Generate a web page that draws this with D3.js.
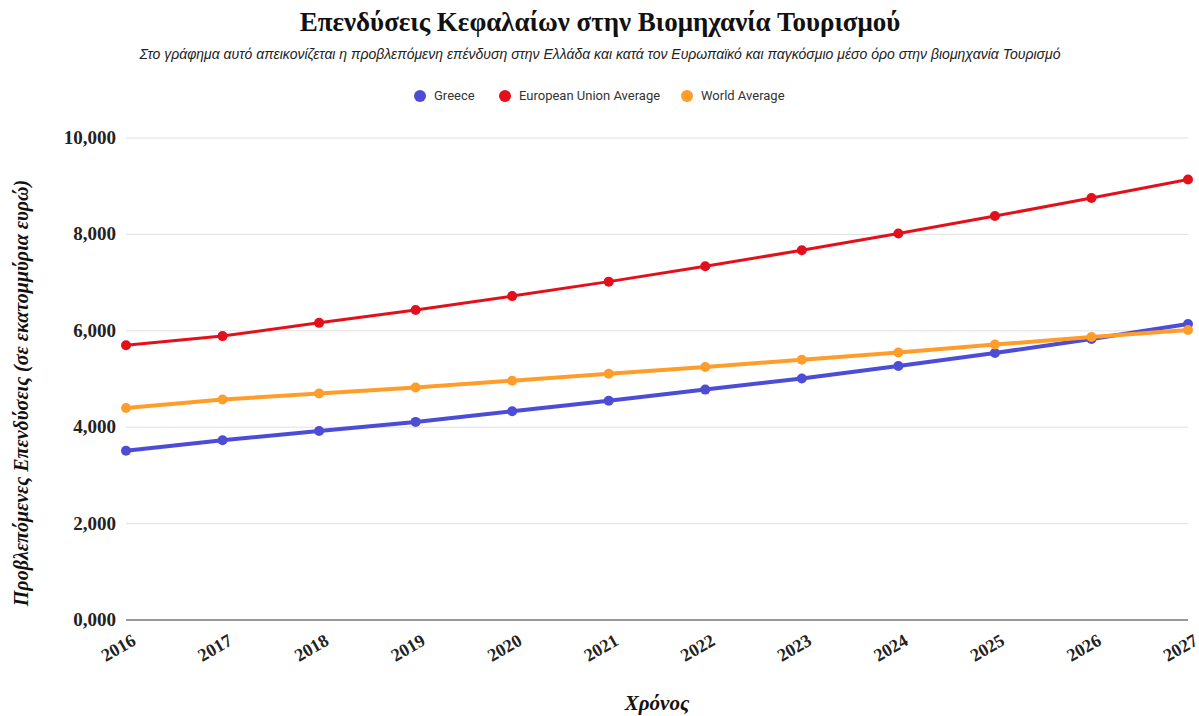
<!DOCTYPE html>
<html>
<head>
  <meta charset="UTF-8">
  <style>
    body { margin: 0; background: #fff; }
    svg { display: block; }
    .grid line { stroke: #e0e0e0; stroke-width: 1; }
    .tick-y { font-family: "Liberation Serif", serif; font-weight: bold; font-size: 19px; fill: #222; }
    .tick-x { font-family: "Liberation Serif", serif; font-weight: bold; font-size: 18px; fill: #222; }
    .legend text { font-family: Roboto, sans-serif; font-size: 13px; fill: #333; }
  </style>
</head>
<body>
<svg></svg>
<script src="https://d3js.org/d3.v7.min.js"></script>
<script>
// chart data
let years = ["2016", "2017", "2018", "2019", "2020", "2021", "2022", "2023", "2024", "2025", "2026", "2027"];
let greece = [3510, 3730, 3920, 4110, 4330, 4550, 4780, 5010, 5270, 5540, 5830, 6140];
let euAverage = [5700, 5890, 6165, 6430, 6720, 7020, 7340, 7670, 8020, 8380, 8755, 9140];
let worldAverage = [4400, 4575, 4700, 4825, 4965, 5110, 5250, 5400, 5550, 5715, 5870, 6015];
let seriesNames = ["Greece", "European Union Average", "World Average"];
let yTicks = [0, 2000, 4000, 6000, 8000, 10000];
let yTickLabels = ["0,000", "2,000", "4,000", "6,000", "8,000", "10,000"];

let width = 1199, height = 716;
let margin = {left: 126, right: 11, top: 138, bottom: 96};

let svg = d3.select("svg").attr("width", width).attr("height", height);

let colors = ["#4c4cd6", "#e3101c", "#ff9d2b"];
let series = [greece, euAverage, worldAverage];

let x = d3.scalePoint()
    .domain(years)
    .range([margin.left, width - margin.right]);

let y = d3.scaleLinear()
    .domain([0, 10000])
    .range([height - margin.bottom, margin.top]);

// title and subtitle
svg.append("text")
    .attr("x", 600).attr("y", 31)
    .attr("text-anchor", "middle")
    .style("font-family", "'Liberation Serif', serif")
    .style("font-weight", "bold")
    .style("font-size", "27px")
    .style("fill", "#111")
    .text("Επενδύσεις Κεφαλαίων στην Βιομηχανία Τουρισμού");

svg.append("text")
    .attr("x", 600).attr("y", 59)
    .attr("text-anchor", "middle")
    .style("font-family", "'Liberation Sans Narrow', 'Liberation Sans', sans-serif")
    .style("font-style", "italic")
    .style("font-size", "14px")
    .style("fill", "#222")
    .text("Στο γράφημα αυτό απεικονίζεται η προβλεπόμενη επένδυση στην Ελλάδα και κατά τον Ευρωπαϊκό και παγκόσμιο μέσο όρο στην βιομηχανία Τουρισμό");

// legend
let legendX = [420, 505, 687];
let legend = svg.append("g").attr("class", "legend");
seriesNames.forEach((name, i) => {
  legend.append("circle")
      .attr("cx", legendX[i]).attr("cy", 96).attr("r", 6)
      .attr("fill", colors[i]);
  legend.append("text")
      .attr("x", legendX[i] + 14).attr("y", 100)
      .text(name);
});

// gridlines
svg.append("g")
    .attr("class", "grid")
    .selectAll("line")
    .data(yTicks.slice(1))
    .enter()
    .append("line")
    .attr("x1", margin.left).attr("x2", width - margin.right)
    .attr("y1", d => y(d)).attr("y2", d => y(d));

// baseline
svg.append("line")
    .attr("x1", margin.left).attr("x2", width - margin.right)
    .attr("y1", y(0)).attr("y2", y(0))
    .attr("stroke", "#999").attr("stroke-width", 2);

// y tick labels
svg.append("g")
    .selectAll("text")
    .data(yTicks)
    .enter()
    .append("text")
    .attr("class", "tick-y")
    .attr("x", 116)
    .attr("y", d => y(d) + 6)
    .attr("text-anchor", "end")
    .text((d, i) => yTickLabels[i]);

// x tick labels, rotated
svg.append("g")
    .selectAll("text")
    .data(years)
    .enter()
    .append("text")
    .attr("class", "tick-x")
    .attr("text-anchor", "end")
    .attr("transform", d => "translate(" + (x(d) + 11) + "," + (y(0) + 24) + ") rotate(-30)")
    .text(d => d);

// axis titles
svg.append("text")
    .attr("x", (margin.left + width - margin.right) / 2)
    .attr("y", 710)
    .attr("text-anchor", "middle")
    .style("font-family", "'Liberation Serif', serif")
    .style("font-weight", "bold")
    .style("font-style", "italic")
    .style("font-size", "21px")
    .style("fill", "#111")
    .text("Χρόνος");

svg.append("text")
    .attr("transform", "translate(28," + 393 + ") rotate(-90)")
    .attr("text-anchor", "middle")
    .style("font-family", "'Liberation Serif', serif")
    .style("font-weight", "bold")
    .style("font-style", "italic")
    .style("font-size", "20px")
    .style("fill", "#111")
    .text("Προβλεπόμενες Επενδύσεις (σε εκατομμύρια ευρώ)");

// lines and points
let line = d3.line()
    .x((d, i) => x(years[i]))
    .y(d => y(d));

series.forEach((values, s) => {
  let g = svg.append("g");
  g.append("path")
      .datum(values)
      .attr("d", line)
      .attr("fill", "none")
      .attr("stroke", colors[s])
      .attr("stroke-width", s == 1 ? 3 : 4);
  g.selectAll("circle")
      .data(values)
      .enter()
      .append("circle")
      .attr("cx", (d, i) => x(years[i]))
      .attr("cy", d => y(d))
      .attr("r", 5)
      .attr("fill", colors[s]);
});
</script>
</body>
</html>
